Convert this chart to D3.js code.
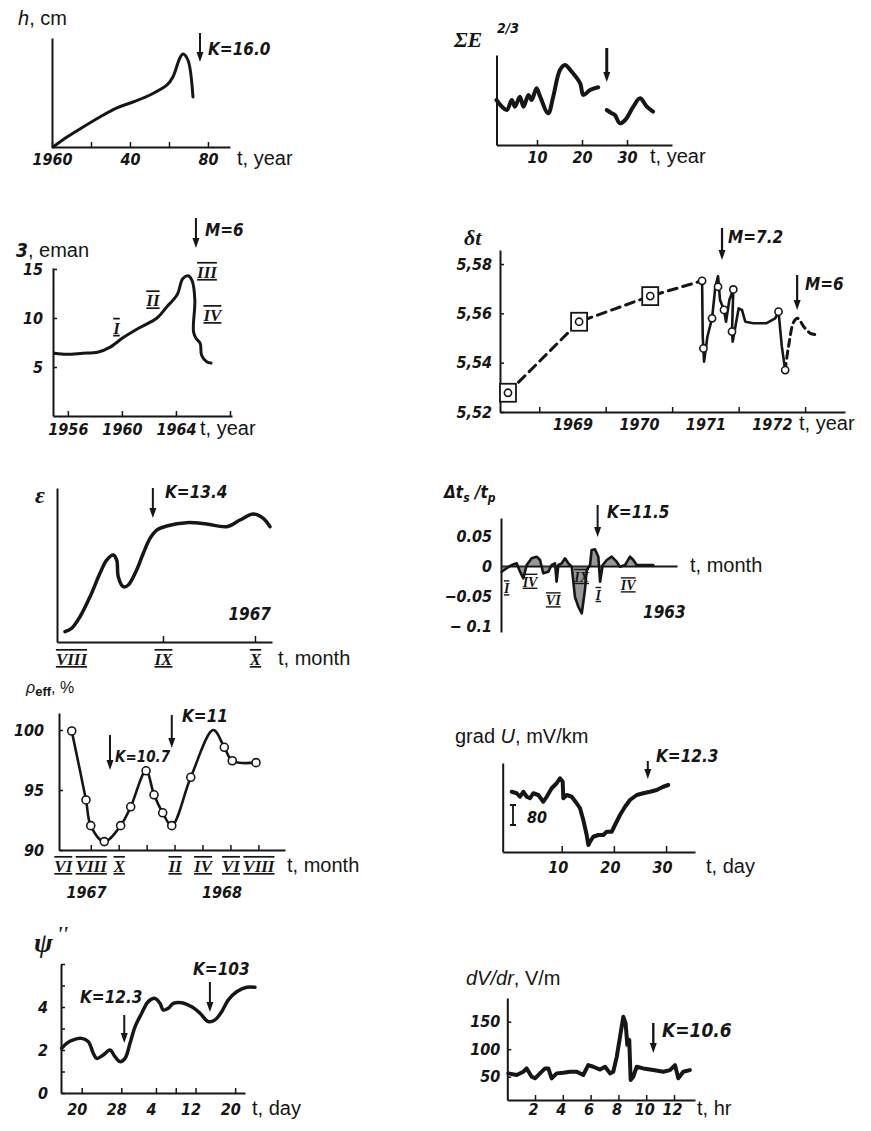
<!DOCTYPE html>
<html>
<head>
<meta charset="utf-8">
<script src="https://cdn.jsdelivr.net/npm/d3@7"></script>
<style>
  body { margin: 0; background: #fff; }
  .num { font-family: "DejaVu Sans Condensed", "DejaVu Sans", sans-serif; font-style: italic; font-weight: bold; font-size: 16px; }
  .kl { font-family: "DejaVu Sans Condensed", "DejaVu Sans", sans-serif; font-style: italic; font-weight: bold; font-size: 17px; }
  .lab { font-family: "Liberation Sans", Arial, sans-serif; font-size: 20px; }
  .rom { font-family: "Liberation Serif", serif; font-style: italic; font-weight: bold; font-size: 17px; }
  .sym { font-family: "Liberation Serif", serif; font-style: italic; font-weight: bold; }
</style>
</head>
<body>
<svg id="fig" width="871" height="1131"></svg>
<script>
// ---------- data ----------
// h, cm
const hYear = [0.5, 7.7, 15.9, 24.6, 33.3, 41.5, 50.3, 59, 62, 65.6, 67.2, 69.7, 72.3];
const hValue = [0, 9.2, 18.3, 27.5, 35.8, 41.3, 47.7, 56.9, 64.2, 81.7, 85.3, 79.8, 45.9];
const hTicks = [0, 20, 40, 60, 80];
const hTickLabels = ['1960', '', '40', '', '80'];

// sum E^2/3 (two pieces, gap at the event)
const sumEYearA = [1.0, 2.2, 3.3, 4.4, 5.1, 6.2, 7.0, 8.1, 8.8, 9.9, 10.7, 12.5, 13.6, 15.1, 16.2, 17.7, 19.6, 20.3, 21.8, 23.6];
const sumEValueA = [50, 42.6, 38.9, 50, 42.6, 53.7, 42.6, 55.6, 50, 63, 53.7, 35.2, 53.7, 83.3, 88.9, 81.5, 68.5, 55.6, 61.1, 64.1];
const sumEYearB = [25.5, 26.6, 27.3, 28.4, 29.6, 31.4, 32.9, 34.4, 35.8];
const sumEValueB = [38.9, 35.2, 33.3, 24.1, 27.8, 42.6, 51.9, 42.6, 37];
const sumETicks = [10, 20, 30];

// radon, eman
const radonYear = [1955.0, 1955.9, 1957.1, 1958.2, 1959.1, 1960.1, 1961.3, 1962.6, 1963.3, 1964.1, 1964.5, 1964.9, 1965.2, 1965.4, 1965.3, 1965.5, 1965.8, 1965.9, 1966.3, 1966.6];
const radonValue = [6.4, 6.3, 6.4, 6.5, 7.0, 8.0, 9.0, 10.0, 11.1, 12.4, 14.0, 14.3, 13.8, 11.8, 8.6, 7.9, 7.4, 6.2, 5.5, 5.4];
const radonXTicks = [1956, 1960, 1964, 1968];
const radonXLabels = ['1956', '1960', '1964', ''];
const radonYTicks = [5, 10, 15];
const radonStages = ['I', 'II', 'III', 'IV'];
const radonStageX = [1959.6, 1962.3, 1966.3, 1966.7];
const radonStageY = [9.0, 11.8, 14.7, 10.3];

// delta t
const dtDashYear = [1968.53, 1969.60, 1970.67, 1971.45];
const dtDashValue = [5.5278, 5.5566, 5.5670, 5.5732];
const dtSolidYear = [1971.45, 1971.46, 1971.48, 1971.53, 1971.60, 1971.65, 1971.69, 1971.72, 1971.78, 1971.81, 1971.86, 1971.92, 1971.90, 1971.91, 1972.00, 1972.05, 1972.10, 1972.22, 1972.42, 1972.55, 1972.60, 1972.65, 1972.70];
const dtSolidValue = [5.5732, 5.5505, 5.5404, 5.5505, 5.5580, 5.5708, 5.5751, 5.5654, 5.5614, 5.5566, 5.5654, 5.5697, 5.5526, 5.5485, 5.5620, 5.5614, 5.5566, 5.5560, 5.5560, 5.5580, 5.5607, 5.5465, 5.5370];
const dtTailYear = [1972.70, 1972.75, 1972.83, 1972.89, 1972.98, 1973.08, 1973.20];
const dtTailValue = [5.5370, 5.5465, 5.5566, 5.5580, 5.5546, 5.5519, 5.5512];
const dtPointYear = [1968.53, 1969.60, 1970.67, 1971.45, 1971.47, 1971.60, 1971.69, 1971.78, 1971.90, 1971.92, 1972.60, 1972.70];
const dtPointValue = [5.5278, 5.5566, 5.5670, 5.5732, 5.5458, 5.5580, 5.5708, 5.5614, 5.5526, 5.5697, 5.5607, 5.5370];
const dtBoxed = [0, 1, 2];
const dtYTicks = [5.52, 5.54, 5.56, 5.58];
const dtXTicks = [1969, 1970, 1971, 1972, 1973];
const dtXLabels = ['1969', '1970', '1971', '1972'];

// epsilon
const epsMonth = [7.935, 8.008, 8.098, 8.207, 8.315, 8.388, 8.46, 8.497, 8.514, 8.568, 8.623, 8.714, 8.786, 8.859, 8.932, 9.04, 9.258, 9.475, 9.692, 9.837, 9.982, 10.09, 10.163];
const epsValue = [6.7, 8.9, 16.4, 29.4, 44.6, 53.2, 56.5, 53.2, 42.4, 35.9, 37, 46.8, 57.6, 67.3, 72.7, 75.3, 77.5, 76.6, 74.9, 79.2, 83.1, 80.3, 74.9];
const epsMonthTicks = [8, 9, 10];
const epsMonthLabels = ['VIII', 'IX', 'X'];

// delta ts / tp
const tsT = [0.4, 3.2, 6.1, 8.9, 10.8, 12.7, 14.6, 17.4, 20.3, 22.2, 24, 26.9, 28.8, 30.7, 31.6, 32.6, 34.5, 36.4, 38.2, 40.2, 42, 43.9, 45.9, 47.7, 48.7, 50.6, 51.5, 53.4, 55.3, 56.3, 57.8, 60.1, 62.9, 65.7, 67.6, 70.5, 73.3, 75.2, 77.1, 80.9, 86.5];
const tsValue = [-0.0095, -0.0038, 0.0017, 0.0045, -0.0095, -0.0205, 0.0017, 0.0128, 0.0155, 0.01, -0.0122, -0.0095, 0.0017, 0.0045, -0.0262, 0.0017, 0.0045, 0.0128, 0.0045, -0.0012, -0.0512, -0.0678, -0.0788, -0.04, -0.0067, 0.0017, 0.0267, 0.0278, 0.0155, -0.0262, 0.0017, 0.01, 0.0155, 0.0072, -0.0012, 0.0017, 0.0155, 0.01, 0.0017, 0.0017, 0.0017];
const tsYTicks = [0.05, 0, -0.05, -0.1];
const tsYLabels = ['0.05', '0', '\u22120.05', '\u2212 0.1'];
const tsMonths = ['I', 'IV', 'VI', 'IX', 'I', 'IV'];
const tsMonthT = [3.2, 16.5, 29.7, 45.8, 55.3, 72.3];
const tsMonthY = [-0.037, -0.026, -0.057, -0.018, -0.048, -0.032];

// rho eff, %
const rhoMonth = [0.64, 1.66, 2.0, 2.97, 4.14, 4.86, 5.96, 6.53, 7.15, 7.8, 9.16, 10.77, 11.56, 12.13, 13.83];
const rhoValue = [99.92, 94.17, 92.03, 90.7, 92.03, 93.6, 96.6, 94.6, 93.1, 92.03, 96.06, 100, 98.56, 97.44, 97.28];
const rhoMeasured = [true, true, true, true, true, true, true, true, true, true, true, false, true, true, true];
const rhoXTicks = [2, 4, 6, 8, 10, 12, 14];
const rhoLabelMonths = [0, 2, 4, 8, 10, 12, 14];
const rhoLabels = ['VI', 'VIII', 'X', 'II', 'IV', 'VI', 'VIII'];
const rhoYTicks = [90, 95, 100];
const rhoYears = ['1967', '1968'];
const rhoYearAt = [1.7, 11.4];

// grad U, mV/km
const gradDay = [0.42, 1.38, 2.01, 2.64, 3.30, 3.93, 4.56, 5.52, 6.48, 7.13, 8.08, 9.04, 9.67, 10.19, 10.31, 10.96, 11.92, 12.87, 13.51, 14.14, 14.79, 15.10, 15.42, 16.05, 17.01, 17.97, 18.62, 19.58, 20.21, 21.17, 22.13, 23.08, 24.37, 25.63, 26.92, 28.20, 29.46, 30.42];
const gradValue = [241, 235, 221, 241, 221, 215, 235, 228, 201, 221, 255, 275, 295, 281, 215, 228, 221, 195, 175, 128, 68, 28, 41, 61, 68, 68, 81, 81, 108, 148, 181, 208, 228, 235, 241, 248, 261, 268];
const gradTicks = [10, 20, 30];
const gradBar = 80;

// psi''
const psiDay = [-4.04, -3.03, -1.70, 0, 1.33, 2.34, 3.03, 4.36, 5.72, 6.73, 7.74, 8.75, 9.76, 10.77, 12.12, 13.45, 14.81, 15.82, 16.48, 17.49, 18.51, 20.20, 22.22, 23.90, 25.58, 26.93, 28.28, 29.62, 31.31, 33.33, 35.0];
const psiValue = [2.08, 2.31, 2.47, 2.54, 2.39, 1.85, 1.61, 1.77, 2.0, 1.69, 1.46, 1.61, 2.31, 3.08, 3.71, 4.25, 4.40, 4.17, 3.86, 3.94, 4.17, 4.20, 4.01, 3.71, 3.32, 3.40, 3.78, 4.33, 4.71, 4.92, 4.92];
const psiXTicks = [0, 8, 15, 19, 23, 31];
const psiXLabels = ['20', '28', '4', '', '12', '20'];
const psiYTicks = [0, 1, 2, 3, 4, 5, 6];
const psiYLabelled = [0, 2, 4];

// dV/dr, V/m
const dvHour = [0.08, 0.68, 1.16, 1.40, 1.76, 2.0, 2.36, 2.72, 2.96, 3.20, 3.56, 4.04, 4.52, 5.0, 5.47, 5.83, 6.19, 6.68, 7.04, 7.40, 7.63, 7.88, 8.12, 8.35, 8.52, 8.64, 8.78, 8.88, 9.07, 9.32, 9.79, 10.51, 11.23, 11.71, 12.07, 12.31, 12.67, 13.14];
const dvValue = [56, 53, 59, 65, 50, 47, 56, 65, 65, 47, 56, 57, 59, 59, 53, 71, 68, 63, 68, 56, 59, 86, 123, 159, 147, 108, 117, 44, 50, 68, 65, 62, 59, 62, 71, 47, 59, 62];
const dvXTicks = [2, 4, 6, 8, 10, 12];
const dvYTicks = [50, 100, 150];

// ---------- drawing helpers ----------
const ink = '#161616';
const svg = d3.select('#fig');

function styleAxis(a, cls) {
  a.attr('font-family', null).attr('font-size', null);
  a.select('.domain').attr('stroke', ink).attr('stroke-width', 2);
  a.selectAll('.tick line').attr('stroke', ink).attr('stroke-width', 1.5);
  a.selectAll('.tick text').attr('class', cls).attr('fill', ink);
  return a;
}

function bottomAxis(g, x, ay, vals, fmt, pad, size, cls) {
  const a = g.append('g').attr('transform', `translate(0,${ay})`)
    .call(d3.axisBottom(x).tickValues(vals).tickFormat(fmt)
      .tickSizeInner(-size).tickSizeOuter(0).tickPadding(pad));
  return styleAxis(a, cls || 'num');
}

function leftAxis(g, y, ax, vals, fmt, pad, size) {
  const a = g.append('g').attr('transform', `translate(${ax},0)`)
    .call(d3.axisLeft(y).tickValues(vals).tickFormat(fmt)
      .tickSizeInner(-size).tickSizeOuter(0).tickPadding(pad));
  return styleAxis(a, 'num');
}

function text(g, x, y, s, cls, anchor) {
  return g.append('text').attr('x', x).attr('y', y).attr('class', cls)
    .attr('fill', ink).attr('text-anchor', anchor || 'start').text(s);
}

function arrow(g, x, y1, y2, w) {
  w = w || 2;
  g.append('line').attr('x1', x).attr('x2', x).attr('y1', y1).attr('y2', y2 - 6)
    .attr('stroke', ink).attr('stroke-width', w);
  g.append('path').attr('d', `M${x - 3.5},${y2 - 10}L${x + 3.5},${y2 - 10}L${x},${y2}Z`).attr('fill', ink);
}

function curve(g, xs, ys, x, y, w, kind, dash) {
  const line = d3.line().x(i => x(xs[i])).y(i => y(ys[i])).curve(kind || d3.curveLinear);
  return g.append('path').attr('d', line(d3.range(xs.length)))
    .attr('fill', 'none').attr('stroke', ink).attr('stroke-width', w)
    .attr('stroke-linejoin', 'round').attr('stroke-linecap', 'round')
    .attr('stroke-dasharray', dash || null);
}

function roman(sel) {
  return sel.style('text-decoration', 'underline overline');
}

// ---------- 1. h, cm ----------
{
  const g = svg.append('g');
  const x = d3.scaleLinear().domain([0, 91.3]).range([52, 230]);
  const y = d3.scaleLinear().domain([0, 100]).range([147, 38]);
  leftAxis(g, y, 52, [], null, 0, 0);
  bottomAxis(g, x, 147, hTicks, (d, i) => hTickLabels[i], 6.6, 5);
  curve(g, hYear, hValue, x, y, 3, d3.curveCatmullRom);
  arrow(g, x(75.9), 33, 62, 2);
  text(g, 208, 55, 'K=16.0', 'kl');
  const t = text(g, 18, 25, '', 'lab');
  t.append('tspan').style('font-style', 'italic').text('h');
  t.append('tspan').text(', cm');
  text(g, 237, 165, 't, year', 'lab');
}

// ---------- 2. sum E^2/3 ----------
{
  const g = svg.append('g');
  const x = d3.scaleLinear().domain([1, 40]).range([496.5, 672]);
  const y = d3.scaleLinear().domain([0, 100]).range([145, 55]);
  leftAxis(g, y, 496.5, [], null, 0, 0);
  bottomAxis(g, x, 145, sumETicks, d => d, 6.6, 5);
  curve(g, sumEYearA, sumEValueA, x, y, 4, d3.curveCatmullRom);
  curve(g, sumEYearB, sumEValueB, x, y, 4, d3.curveCatmullRom);
  arrow(g, x(25.5), 48, 82, 3);
  text(g, 454, 47, '\u03A3E', 'sym').style('font-size', '22px');
  text(g, 497, 33, '2/3', 'num').style('font-size', '14px');
  text(g, 650, 163, 't, year', 'lab');
}

// ---------- 3. radon, eman ----------
{
  const g = svg.append('g');
  const x = d3.scaleLinear().domain([1954.9, 1968.15]).range([53, 232]);
  const y = d3.scaleLinear().domain([0, 15.1]).range([416, 268]);
  leftAxis(g, y, 53, radonYTicks, d => d, 10, 4);
  bottomAxis(g, x, 416, radonXTicks, (d, i) => radonXLabels[i], 7.6, 5);
  curve(g, radonYear, radonValue, x, y, 3, d3.curveCatmullRom);
  radonStages.forEach((s, i) => roman(text(g, x(radonStageX[i]), y(radonStageY[i]) + 6, s, 'rom', 'middle')));
  arrow(g, x(1965.48), 218, 248, 2);
  text(g, 205, 236, 'M=6', 'kl');
  const t = text(g, 16, 257, '', 'lab');
  t.append('tspan').attr('class', 'num').style('font-size', '19px').text('3');
  t.append('tspan').text(', eman');
  text(g, 200, 435, 't, year', 'lab');
}

// ---------- 4. delta t ----------
{
  const g = svg.append('g');
  const x = d3.scaleLinear().domain([1968.41, 1973.6]).range([500, 845]);
  const y = d3.scaleLinear().domain([5.52, 5.5857]).range([412, 250]);
  leftAxis(g, y, 500, dtYTicks, d => d3.format('.2f')(d).replace('.', ','), 8, 4);
  bottomAxis(g, x, 412, dtXTicks, () => '', 0, 5);
  bottomAxis(g, x, 412, dtXLabels.map(s => +s + 0.5), (d, i) => dtXLabels[i], 6.6, 0)
    .select('.domain').remove();
  curve(g, dtDashYear, dtDashValue, x, y, 3, d3.curveLinear, '9,6');
  curve(g, dtSolidYear, dtSolidValue, x, y, 2.6, d3.curveLinear);
  curve(g, dtTailYear, dtTailValue, x, y, 3, d3.curveCatmullRom, '7,5');
  dtBoxed.forEach(i => {
    g.append('rect').attr('x', x(dtPointYear[i]) - 8).attr('y', y(dtPointValue[i]) - 9)
      .attr('width', 16).attr('height', 18).attr('fill', '#fff')
      .attr('stroke', ink).attr('stroke-width', 1.8);
  });
  g.selectAll('circle.dt').data(d3.range(dtPointYear.length)).join('circle')
    .attr('class', 'dt').attr('cx', i => x(dtPointYear[i])).attr('cy', i => y(dtPointValue[i]))
    .attr('r', 3.6).attr('fill', '#fff').attr('stroke', ink).attr('stroke-width', 1.6);
  arrow(g, x(1971.75), 228, 260, 2.2);
  text(g, 728, 243, 'M=7.2', 'kl');
  arrow(g, x(1972.88), 275, 310, 2.2);
  text(g, 805, 290, 'M=6', 'kl');
  text(g, 464, 245, '\u03B4t', 'sym').style('font-size', '22px');
  text(g, 799, 430, 't, year', 'lab');
}

// ---------- 5. epsilon ----------
{
  const g = svg.append('g');
  const x = d3.scaleLinear().domain([7.848, 10.185]).range([57, 272]);
  const y = d3.scaleLinear().domain([0, 100]).range([642, 488]);
  leftAxis(g, y, 57, [], null, 0, 0);
  bottomAxis(g, x, 642, [9, 10], () => '', 0, 6);
  bottomAxis(g, x, 642, epsMonthTicks, (d, i) => epsMonthLabels[i], 10.9, 0, 'rom')
    .select('.domain').remove();
  roman(g.selectAll('.rom'));
  curve(g, epsMonth, epsValue, x, y, 3.5, d3.curveCatmullRom);
  arrow(g, x(8.89), 488, 518, 2);
  text(g, 165, 498, 'K=13.4', 'kl');
  text(g, 271, 620, '1967', 'num', 'end').style('font-size', '17px');
  text(g, 35, 503, '\u03B5', 'sym').style('font-size', '24px');
  text(g, 278, 665, 't, month', 'lab');
}

// ---------- 6. delta ts / tp ----------
{
  const g = svg.append('g');
  const x = d3.scaleLinear().domain([0, 100]).range([501, 677]);
  const y = d3.scaleLinear().domain([-0.11, 0.08]).range([632, 518]);
  leftAxis(g, y, 501, tsYTicks, (d, i) => tsYLabels[i], 9, 0);
  bottomAxis(g, x, y(0), [], null, 0, 0);
  const area = d3.area().x(i => x(tsT[i])).y0(y(0)).y1(i => y(tsValue[i]));
  g.append('path').attr('d', area(d3.range(tsT.length))).attr('fill', '#444').attr('opacity', 0.55);
  curve(g, tsT, tsValue, x, y, 2.6, d3.curveLinear);
  tsMonths.forEach((s, i) => roman(text(g, x(tsMonthT[i]), y(tsMonthY[i]) + 5, s, 'rom', 'middle').style('font-size', '14px')));
  arrow(g, x(54.9), 505, 537, 2);
  text(g, 607, 518, 'K=11.5', 'kl');
  text(g, 643, 618, '1963', 'num').style('font-size', '17px');
  const t = text(g, 444, 498, '', 'num').style('font-size', '17px');
  t.append('tspan').text('\u0394t');
  t.append('tspan').attr('dy', 4).style('font-size', '12px').text('s');
  t.append('tspan').attr('dy', -4).text(' /t');
  t.append('tspan').attr('dy', 4).style('font-size', '12px').text('p');
  text(g, 690, 572, 't, month', 'lab');
}

// ---------- 7. rho eff ----------
{
  const g = svg.append('g');
  const x = d3.scaleLinear().domain([-0.272, 15.905]).range([59, 285]);
  const y = d3.scaleLinear().domain([90, 101.42]).range([850, 713]);
  leftAxis(g, y, 59, rhoYTicks, d => d, 15, 4);
  bottomAxis(g, x, 850, rhoXTicks, () => '', 0, 5);
  bottomAxis(g, x, 850, rhoLabelMonths, (d, i) => rhoLabels[i], 9.9, 0, 'rom')
    .select('.domain').remove();
  roman(g.selectAll('.rom'));
  curve(g, rhoMonth, rhoValue, x, y, 2.6, d3.curveCatmullRom);
  g.selectAll('circle.rho').data(d3.range(rhoMonth.length).filter(i => rhoMeasured[i])).join('circle')
    .attr('class', 'rho').attr('cx', i => x(rhoMonth[i])).attr('cy', i => y(rhoValue[i]))
    .attr('r', 4).attr('fill', '#fff').attr('stroke', ink).attr('stroke-width', 1.6);
  arrow(g, x(3.38), 735, 770, 2);
  text(g, 115, 762, 'K=10.7', 'kl').style('font-size', '15px');
  arrow(g, x(7.8), 715, 748, 2);
  text(g, 182, 722, 'K=11', 'kl');
  rhoYears.forEach((s, i) => text(g, x(rhoYearAt[i]), 898, s, 'num', 'middle'));
  const t = text(g, 26, 693, '', 'lab').style('font-size', '16px');
  t.append('tspan').style('font-style', 'italic').text('\u03C1');
  t.append('tspan').attr('dy', 3).style('font-size', '13px').style('font-weight', 'bold').text('eff');
  t.append('tspan').attr('dy', -3).text(', %');
  text(g, 287, 872, 't, month', 'lab');
}

// ---------- 8. grad U ----------
{
  const g = svg.append('g');
  const x = d3.scaleLinear().domain([-1.303, 35.54]).range([502.7, 695]);
  const y = d3.scaleLinear().domain([0, 356]).range([852, 763]);
  leftAxis(g, y, 502.7, [], null, 0, 0);
  bottomAxis(g, x, 852, gradTicks, d => d, 9.6, 6).selectAll('.tick text').attr('dx', -4);
  curve(g, gradDay, gradValue, x, y, 4, d3.curveLinear);
  const bx = x(0.67), b0 = y(108), b1 = y(108 + gradBar);
  g.append('path').attr('d', `M${bx},${b0}V${b1}M${bx - 3},${b0}H${bx + 3}M${bx - 3},${b1}H${bx + 3}`)
    .attr('stroke', ink).attr('stroke-width', 1.8).attr('fill', 'none');
  text(g, 527, 823, '80', 'num');
  arrow(g, x(26.5), 761, 779, 2);
  text(g, 656, 762, 'K=12.3', 'kl');
  const t = text(g, 455, 743, '', 'lab');
  t.append('tspan').text('grad ');
  t.append('tspan').style('font-style', 'italic').text('U');
  t.append('tspan').text(', mV/km');
  text(g, 706, 873, 't, day', 'lab');
}

// ---------- 9. psi'' ----------
{
  const g = svg.append('g');
  const x = d3.scaleLinear().domain([-4.18, 32.99]).range([61, 245]);
  const y = d3.scaleLinear().domain([0, 6]).range([1093, 964]);
  leftAxis(g, y, 61, psiYTicks, d => (psiYLabelled.includes(d) ? d : ''), 13, 4);
  bottomAxis(g, x, 1093, psiXTicks, (d, i) => psiXLabels[i], 10.6, 5).selectAll('.tick text').attr('dx', -5);
  curve(g, psiDay, psiValue, x, y, 3.5, d3.curveCatmullRom);
  arrow(g, x(8.6), 1015, 1043, 2);
  text(g, 80, 1003, 'K=12.3', 'kl');
  arrow(g, x(25.9), 982, 1012, 2);
  text(g, 193, 975, 'K=103', 'kl');
  text(g, 34, 952, '\u03C8', 'sym').style('font-size', '28px');
  text(g, 57, 941, "''", 'sym').style('font-size', '20px');
  text(g, 252, 1115, 't, day', 'lab');
}

// ---------- 10. dV/dr ----------
{
  const g = svg.append('g');
  const x = d3.scaleLinear().domain([0.007, 13.51]).range([507.3, 695]);
  const y = d3.scaleLinear().domain([7.6, 193]).range([1100, 998]);
  leftAxis(g, y, 507.3, dvYTicks, d => d, 7, 4);
  bottomAxis(g, x, 1100, dvXTicks, d => d, 3.6, 5).selectAll('.tick text').attr('dx', -2);
  curve(g, dvHour, dvValue, x, y, 4, d3.curveLinear);
  arrow(g, x(10.51), 1023, 1053, 2.4);
  text(g, 662, 1037, 'K=10.6', 'kl').style('font-size', '19px');
  const t = text(g, 466, 985, '', 'lab');
  t.append('tspan').style('font-style', 'italic').text('dV/dr');
  t.append('tspan').text(', V/m');
  text(g, 697, 1115, 't, hr', 'lab');
}
</script>
</body>
</html>
